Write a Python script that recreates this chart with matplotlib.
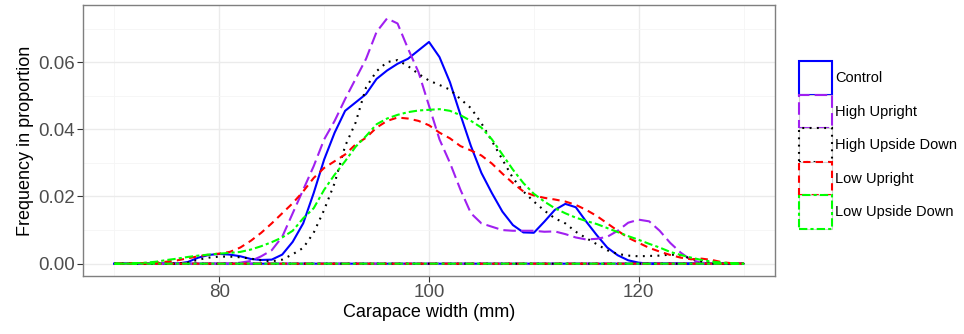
import matplotlib.pyplot as plt
from matplotlib.patches import Patch
from matplotlib.legend_handler import HandlerTuple

plt.rcParams['font.family'] = ['Liberation Sans', 'DejaVu Sans']

# density estimates of carapace width per treatment (read at 1 mm steps)
width = list(range(70, 131))

control = [0, 0, 0, 0, 0, 0, 0, 0.0005, 0.0018, 0.0026,
           0.0029, 0.0027, 0.0022, 0.0014, 0.0011, 0.0012, 0.0027, 0.0065, 0.012, 0.021,
           0.031, 0.039, 0.0455, 0.048, 0.0505, 0.055, 0.0575, 0.0595, 0.061, 0.0635,
           0.066, 0.0615, 0.054, 0.0443, 0.035, 0.027, 0.021, 0.0155, 0.0115, 0.0093,
           0.0092, 0.0125, 0.016, 0.0178, 0.0168, 0.0125, 0.0085, 0.0048, 0.0025, 0.001,
           0.0003, 0, 0, 0, 0, 0, 0, 0, 0, 0,
           0]

high_upright = [0, 0, 0, 0, 0, 0, 0, 0, 0, 0,
                0, 0.0001, 0.0003, 0.0008, 0.0022, 0.004, 0.008, 0.015, 0.022, 0.029,
                0.037, 0.0425, 0.049, 0.055, 0.061, 0.069, 0.073, 0.0715, 0.064, 0.057,
                0.047, 0.037, 0.030, 0.022, 0.015, 0.012, 0.011, 0.010, 0.0098, 0.0098,
                0.0098, 0.0095, 0.0096, 0.0088, 0.0078, 0.0072, 0.0074, 0.008, 0.0098, 0.0122,
                0.0131, 0.0126, 0.0098, 0.0062, 0.0033, 0.0011, 0.0003, 0, 0, 0,
                0]

high_upside_down = [0, 0, 0, 0, 0, 0, 0, 0.0003, 0.0012, 0.0018,
                    0.0021, 0.0021, 0.0019, 0.0015, 0.001, 0.0007, 0.0012, 0.0028, 0.0047, 0.0092,
                    0.016, 0.024, 0.035, 0.042, 0.0525, 0.0573, 0.060, 0.0606, 0.0588, 0.0565,
                    0.0545, 0.0532, 0.0518, 0.049, 0.0463, 0.0418, 0.0365, 0.031, 0.0255, 0.0215,
                    0.0185, 0.0158, 0.0135, 0.012, 0.0095, 0.0076, 0.0058, 0.004, 0.0029, 0.0024,
                    0.0022, 0.0023, 0.0024, 0.0027, 0.0025, 0.0015, 0.0006, 0.0002, 0, 0,
                    0]

low_upright = [0, 0, 0.0001, 0.0002, 0.0003, 0.0006, 0.001, 0.0016, 0.0022, 0.0027,
               0.003, 0.0035, 0.0048, 0.0068, 0.0092, 0.012, 0.015, 0.018, 0.0215, 0.0255,
               0.0285, 0.0305, 0.0325, 0.0355, 0.0375, 0.0405, 0.0425, 0.0435, 0.0432, 0.0425,
               0.0412, 0.039, 0.0373, 0.035, 0.0337, 0.0322, 0.0298, 0.0268, 0.024, 0.0215,
               0.0203, 0.0196, 0.0191, 0.0185, 0.0175, 0.016, 0.0142, 0.012, 0.0098, 0.0077,
               0.0062, 0.0047, 0.0036, 0.0026, 0.0018, 0.0013, 0.0015, 0.0011, 0.0004, 0.0001,
               0]

low_upside_down = [0, 0, 0.0001, 0.0003, 0.0006, 0.0011, 0.0015, 0.002, 0.0024, 0.0027,
                   0.003, 0.0032, 0.0035, 0.0042, 0.0052, 0.0064, 0.0078, 0.0098, 0.0135, 0.0165,
                   0.022, 0.0265, 0.0305, 0.0348, 0.038, 0.0415, 0.0432, 0.0443, 0.0451, 0.0456,
                   0.0458, 0.046, 0.0455, 0.0442, 0.0425, 0.0405, 0.037, 0.0325, 0.028, 0.024,
                   0.0208, 0.0185, 0.0165, 0.015, 0.0137, 0.0127, 0.0118, 0.0106, 0.0094, 0.0082,
                   0.0071, 0.0059, 0.0048, 0.0035, 0.0026, 0.0018, 0.0011, 0.0006, 0.0003, 0.0001,
                   0]

groups = ['Control', 'High Upright', 'High Upside Down', 'Low Upright', 'Low Upside Down']
series = [control, high_upright, high_upside_down, low_upright, low_upside_down]
colors = ['#0000FF', '#A020F0', '#000000', '#FF0000', '#00FF00']
dashes = ['-', (0, (6, 2.5)), (0, (0.9, 2.6)), (0, (3.5, 2.5)), (0, (4, 1.5, 1.5, 1.5))]

fig = plt.figure(figsize=(9.64, 3.34), dpi=100)
ax = fig.add_axes([83 / 964, 1 - 276 / 334, 692 / 964, 271 / 334])

for name, ys, c, ls in zip(groups, series, colors, dashes):
    # closed outline: curve plus the zero baseline, like geom_density
    xs = width + width[::-1]
    yy = list(ys) + [0] * len(width)
    ax.plot(xs, yy, color=c, linestyle=ls, linewidth=1.5, label=name)

ax.set_xlim(67, 133)
ax.set_ylim(-0.00367, 0.077)
ax.set_xticks([80, 100, 120])
ax.set_xticks([70, 90, 110, 130], minor=True)
ax.set_yticks([0, 0.02, 0.04, 0.06])
ax.set_yticklabels(['0.00', '0.02', '0.04', '0.06'])
ax.set_yticks([0.01, 0.03, 0.05, 0.07], minor=True)
ax.grid(which='major', color='#EBEBEB', linewidth=1.0)
ax.grid(which='minor', color='#F5F5F5', linewidth=0.6)
ax.set_axisbelow(True)
ax.tick_params(which='major', direction='out', length=4, width=0.8, color='#333333',
               labelsize=13.5, labelcolor='#4D4D4D', pad=2)
ax.tick_params(which='minor', length=0)
for sp in ax.spines.values():
    sp.set_color('#7F7F7F')
    sp.set_linewidth(1.0)
ax.set_xlabel('Carapace width (mm)', fontsize=13, labelpad=2)
ax.set_ylabel('Frequency in proportion', fontsize=13, labelpad=3)

# legend keys: grey key box with the group's outline on top
handles = [(Patch(facecolor='white', edgecolor='#D0D0D0', linewidth=0.8),
            Patch(facecolor='none', edgecolor=c, linestyle=ls, linewidth=1.5))
           for c, ls in zip(colors, dashes)]
fig.legend(handles, groups, loc='center left', bbox_to_anchor=(791.5 / 964, 1 - 145 / 334),
           frameon=False, fontsize=10.5, handlelength=2.26, handleheight=3.15,
           labelspacing=0.0, handletextpad=0.25, borderpad=0,
           handler_map={tuple: HandlerTuple(ndivide=1, pad=0)})

fig.savefig('out.png', dpi=100)
